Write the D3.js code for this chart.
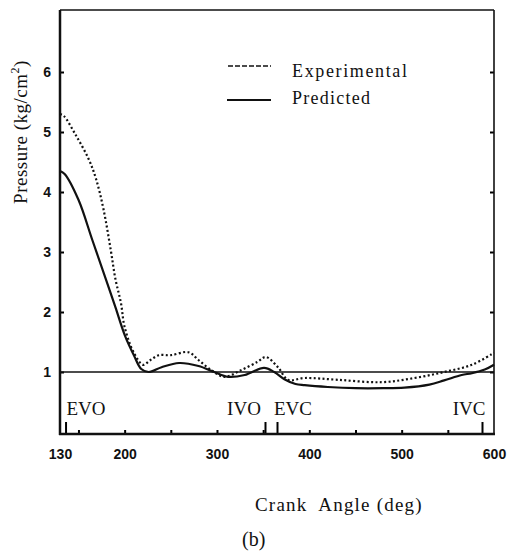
<!DOCTYPE html>
<html>
<head>
<meta charset="utf-8">
<script src="https://cdn.jsdelivr.net/npm/d3@7"></script>
<style>
  body { margin: 0; background: #fff; }
  .serif { font-family: "Liberation Serif", "DejaVu Serif", serif; fill: #111; }
  .tick text { font-family: "Liberation Sans", Arial, sans-serif; font-weight: bold; font-size: 14px; fill: #111; }
</style>
</head>
<body>
<div class="canva"></div>
<script>
// data
const predAngle = [130, 135, 150, 165, 180, 190, 200, 210, 218, 226, 240, 259, 280, 297, 312, 330, 351, 362, 373, 385, 395, 420, 450, 480, 503, 530, 546, 565, 576, 590, 600];
const predP     = [4.35, 4.3, 3.87, 3.2, 2.53, 2.08, 1.62, 1.28, 1.05, 1.0, 1.08, 1.15, 1.1, 1.0, 0.92, 0.95, 1.07, 1.0, 0.88, 0.8, 0.78, 0.75, 0.73, 0.73, 0.74, 0.79, 0.86, 0.95, 0.98, 1.04, 1.12];
const expAngle  = [130, 134, 147, 161, 169, 177, 185, 190, 196, 200, 210, 220, 228, 237, 250, 269, 280, 294, 308, 326, 344, 353, 366, 377, 395, 431, 478, 514, 546, 576, 600];
const expP      = [5.3, 5.27, 4.95, 4.55, 4.22, 3.72, 3.03, 2.55, 2.15, 1.75, 1.32, 1.12, 1.2, 1.28, 1.28, 1.33, 1.2, 1.03, 0.92, 1.03, 1.17, 1.25, 1.08, 0.87, 0.9, 0.87, 0.83, 0.9, 1.0, 1.12, 1.32];
const xLabels = [130, 200, 300, 400, 500, 600];
const xMinor = [150, 200, 250, 300, 350, 400, 450, 500, 550];
const events = [136, 352, 365, 587];
const eventNames = ["EVO", "IVO", "EVC", "IVC"];
const yTicks = [1, 2, 3, 4, 5, 6];
const refP = 1;

const svg = d3.select(".canva").append("svg")
  .attr("width", 514)
  .attr("height", 552);

const x = d3.scaleLinear().domain([130, 600]).range([60, 494]);
const y = d3.scaleLinear().domain([0, 7]).range([432, 12]);

const bottomY = 434, topY = 10;

// ticks
svg.append("g")
  .attr("transform", `translate(0,${bottomY})`)
  .call(d3.axisBottom(x).tickValues(xLabels).tickSize(0).tickPadding(15))
  .call(g => g.select(".domain").remove());

svg.append("g")
  .attr("transform", `translate(0,${bottomY})`)
  .call(d3.axisBottom(x).tickValues(xMinor).tickSize(-4).tickFormat(""))
  .call(g => g.select(".domain").remove())
  .selectAll("line").attr("stroke-width", 2);

svg.append("g")
  .attr("transform", `translate(0,${bottomY})`)
  .call(d3.axisBottom(x).tickValues(events).tickSize(-12).tickFormat(""))
  .call(g => g.select(".domain").remove())
  .selectAll("line").attr("stroke-width", 2);

svg.append("g")
  .attr("transform", `translate(${x(130)},0)`)
  .call(d3.axisLeft(y).tickValues(yTicks).tickSize(-4).tickPadding(9).tickFormat(d3.format("d")))
  .call(g => g.select(".domain").remove())
  .selectAll("line").attr("stroke-width", 2);

svg.append("g")
  .attr("transform", `translate(${x(600)},0)`)
  .call(d3.axisRight(y).tickValues(yTicks).tickSize(-4).tickFormat(""))
  .call(g => g.select(".domain").remove())
  .selectAll("line").attr("stroke-width", 2);

// frame
svg.append("line").attr("x1", x(130)).attr("x2", x(130)).attr("y1", topY).attr("y2", bottomY + 1)
  .attr("stroke", "#111").attr("stroke-width", 2.5);
svg.append("line").attr("x1", x(130) - 1).attr("x2", x(600) + 1).attr("y1", bottomY).attr("y2", bottomY)
  .attr("stroke", "#111").attr("stroke-width", 2.5);
svg.append("line").attr("x1", x(130)).attr("x2", x(600)).attr("y1", topY).attr("y2", topY)
  .attr("stroke", "#111").attr("stroke-width", 1.6);
svg.append("line").attr("x1", x(600)).attr("x2", x(600)).attr("y1", topY).attr("y2", bottomY)
  .attr("stroke", "#111").attr("stroke-width", 1.6);

// reference line at 1
svg.append("line")
  .attr("x1", x(130)).attr("x2", x(600))
  .attr("y1", y(refP)).attr("y2", y(refP))
  .attr("stroke", "#111").attr("stroke-width", 1.5);

const line = d3.line()
  .x(d => x(d[0]))
  .y(d => y(d[1]))
  .curve(d3.curveCatmullRom.alpha(0.5));

svg.append("path")
  .datum(predAngle.map((a, i) => [a, predP[i]]))
  .attr("d", line)
  .attr("fill", "none").attr("stroke", "#111").attr("stroke-width", 2.2);

svg.append("path")
  .datum(expAngle.map((a, i) => [a, expP[i]]))
  .attr("d", line)
  .attr("fill", "none").attr("stroke", "#111").attr("stroke-width", 2.2)
  .attr("stroke-dasharray", "2,2.4");

// event labels
const evX = [86, 244, 293, 469];
svg.selectAll(".ev")
  .data(eventNames)
  .enter()
  .append("text")
  .attr("class", "serif")
  .attr("x", (d, i) => evX[i])
  .attr("y", 415)
  .attr("text-anchor", "middle")
  .style("font-size", "19px")
  .text(d => d);

// legend
svg.append("line").attr("x1", 228).attr("x2", 271).attr("y1", 66).attr("y2", 66)
  .attr("stroke", "#111").attr("stroke-width", 1.6).attr("stroke-dasharray", "5,2");
svg.append("line").attr("x1", 227).attr("x2", 271).attr("y1", 100).attr("y2", 100)
  .attr("stroke", "#111").attr("stroke-width", 2.2);
svg.append("text").attr("class", "serif").attr("x", 292).attr("y", 77)
  .attr("textLength", 115).style("font-size", "18px").text("Experimental");
svg.append("text").attr("class", "serif").attr("x", 292).attr("y", 104)
  .attr("textLength", 78).style("font-size", "18px").text("Predicted");

// axis titles
const yt = svg.append("text").attr("class", "serif")
  .attr("transform", "translate(27,132) rotate(-90)")
  .attr("text-anchor", "middle")
  .style("font-size", "19px")
  .style("letter-spacing", "0.5px");
yt.append("tspan").text("Pressure  (kg/cm");
yt.append("tspan").attr("dy", -8).style("font-size", "12px").text("2");
yt.append("tspan").attr("dy", 8).text(")");

svg.append("text").attr("class", "serif")
  .attr("x", 255).attr("y", 511)
  .style("font-size", "19px")
  .style("letter-spacing", "1.2px")
  .style("white-space", "pre")
  .text("Crank  Angle (deg)");

svg.append("text").attr("class", "serif")
  .attr("x", 242).attr("y", 546)
  .style("font-size", "20px")
  .text("(b)");
</script>
</body>
</html>
